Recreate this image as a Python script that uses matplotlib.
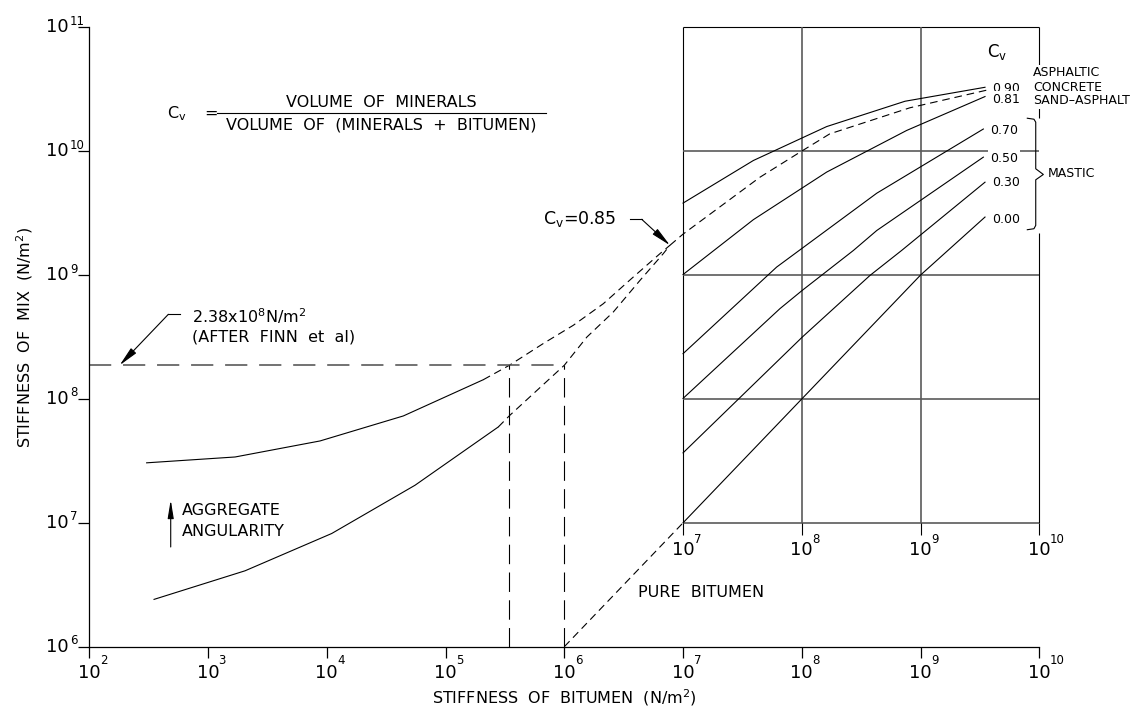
import numpy as np
import matplotlib.pyplot as plt
from matplotlib.ticker import NullLocator

plt.rcParams['font.family'] = ['DejaVu Sans']
plt.rcParams['mathtext.default'] = 'regular'
plt.rcParams['lines.scale_dashes'] = False

# ---- data (N/m^2) ----
# mixes: upper (angular aggregate) and lower curve, solid part
hi_x = [3.04e2, 1.69e3, 8.77e3, 4.41e4, 2.08e5]
hi_y = [3.05e7, 3.40e7, 4.58e7, 7.29e7, 1.43e8]
lo_x = [3.51e2, 2.05e3, 1.10e4, 5.53e4, 2.78e5]
lo_y = [2.41e6, 4.10e6, 8.20e6, 2.01e7, 5.94e7]
# dashed continuations up to the Cv=0.85 point
hi_dash_x = [2.08e5, 3.45e5, 6.65e5, 1.19e6, 2.13e6, 3.81e6, 6.40e6, 7.76e6]
hi_dash_y = [1.43e8, 1.87e8, 2.80e8, 3.93e8, 5.87e8, 9.64e8, 1.49e9, 1.74e9]
lo_dash_x = [2.78e5, 3.49e5, 1.0e6, 1.55e6, 2.59e6, 4.34e6, 6.82e6, 7.76e6]
lo_dash_y = [5.94e7, 7.40e7, 1.87e8, 3.16e8, 5.04e8, 9.06e8, 1.49e9, 1.74e9]
# Cv = 0.85 (dashed)
cv85_x = [7.76e6, 1.0e7, 4.45e7, 9.66e7, 1.72e8, 8.13e8, 3.72e9]
cv85_y = [1.74e9, 2.14e9, 6.17e9, 9.82e9, 1.38e10, 2.24e10, 3.13e10]
# Cv curves inside the box
cv090_x = [1.0e7, 3.91e7, 1.62e8, 7.40e8, 3.49e9]
cv090_y = [3.81e9, 8.41e9, 1.58e10, 2.53e10, 3.28e10]
cv081_x = [1.0e7, 3.91e7, 1.62e8, 7.64e8, 3.49e9]
cv081_y = [1.01e9, 2.80e9, 6.78e9, 1.47e10, 2.76e10]
cv070_x = [1.0e7, 6.14e7, 4.28e8, 3.38e9]
cv070_y = [2.32e8, 1.16e9, 4.58e9, 1.51e10]
cv050_x = [1.0e7, 6.55e7, 1.01e8, 2.72e8, 4.28e8, 3.38e9]
cv050_y = [1.01e8, 5.36e8, 7.53e8, 1.58e9, 2.29e9, 8.95e9]
cv030_x = [1.0e7, 1.01e8, 3.76e8, 6.93e8, 3.49e9]
cv030_y = [3.67e7, 3.16e8, 9.95e8, 1.58e9, 5.62e9]
cv000_x = [1.0e7, 1.0e8, 1.0e9, 3.49e9]
cv000_y = [1.0e7, 1.0e8, 1.0e9, 2.94e9]
cv_labels = ['0.90', '0.81', '0.70', '0.50', '0.30', '0.00']
# pure bitumen (dashed, below the box)
pure_x = [1.0e6, 1.0e7]
pure_y = [1.0e6, 1.0e7]
# Finn et al. limit and the two bitumen stiffnesses it gives
finn_y = 1.87e8
finn_x = [3.45e5, 1.0e6]

x_dec = [2, 3, 4, 5, 6, 7, 8, 9, 10]
y_dec = [6, 7, 8, 9, 10, 11]
box_dec = [7, 8, 9, 10]

PT = 0.72  # pixels -> points at dpi 100
grey = '#5a5a5a'
lw = 0.8
head = '-|>,head_length=1.2,head_width=0.22'

fig = plt.figure(figsize=(11.45, 7.10), dpi=100)
ax = fig.add_axes([89.3 / 1145, 1 - 646.7 / 710, 950 / 1145, 619.4 / 710])
ax.set_xscale('log')
ax.set_yscale('log')
ax.set_xlim(1e2, 1e10)
ax.set_ylim(1e6, 1e11)
for s in ['top', 'right']:
    ax.spines[s].set_visible(False)
for s in ['left', 'bottom']:
    ax.spines[s].set_linewidth(0.9)
ax.set_xticks([10.0 ** k for k in x_dec])
ax.set_yticks([10.0 ** k for k in y_dec])
ax.xaxis.set_minor_locator(NullLocator())
ax.yaxis.set_minor_locator(NullLocator())
ax.tick_params(length=8, width=0.9, direction='out',
               labelbottom=False, labelleft=False)

# tick labels drawn as "10" + exponent, like the drafting
for k in x_dec:
    ax.annotate('10', xy=(10.0 ** k, 0), xycoords=('data', 'axes fraction'),
                xytext=(0, -26 * PT), textcoords='offset points',
                ha='center', va='center', fontsize=13)
    ax.annotate(str(k), xy=(10.0 ** k, 0), xycoords=('data', 'axes fraction'),
                xytext=(10.5 * PT, -14 * PT), textcoords='offset points',
                ha='left', va='center', fontsize=8.5)
for k in y_dec:
    ax.annotate('10', xy=(0, 10.0 ** k), xycoords=('axes fraction', 'data'),
                xytext=(-21 * PT, 0), textcoords='offset points',
                ha='right', va='center', fontsize=13)
    ax.annotate(str(k), xy=(0, 10.0 ** k), xycoords=('axes fraction', 'data'),
                xytext=(-19.5 * PT, 6 * PT), textcoords='offset points',
                ha='left', va='center', fontsize=8.5)

ax.set_xlabel('STIFFNESS  OF  BITUMEN  (N/m$^2$)', fontsize=11.5, labelpad=21)
ax.set_ylabel('STIFFNESS  OF  MIX  (N/m$^2$)', fontsize=11.5, labelpad=31)

# ---- box on the right ----
lo, hi = 1e7, 1e10
top = 1e11
brace_top, brace_bot = 1.85e10, 2.2e9
kw = dict(clip_on=False, solid_capstyle='butt')
ax.plot([lo, lo], [lo, top], color='k', lw=lw, **kw)
ax.plot([lo, hi], [top, top], color='k', lw=lw, **kw)
ax.plot([hi, hi], [lo, brace_bot], color='k', lw=lw, **kw)
ax.plot([hi, hi], [brace_top, top], color='k', lw=lw, **kw)
ax.plot([lo, hi], [lo, lo], color=grey, lw=1.2, **kw)
for k in [8, 9]:
    ax.plot([10.0 ** k] * 2, [lo, top], color=grey, lw=1.2, **kw)
for k in [8, 9, 10]:
    ax.plot([lo, hi], [10.0 ** k] * 2, color=grey, lw=1.2, **kw)
for k in box_dec:
    ax.plot([10.0 ** k] * 2, [10 ** 6.9, lo], color='k', lw=lw, **kw)
    ax.annotate('10', xy=(10.0 ** k, lo), xytext=(0, -27 * PT),
                textcoords='offset points', ha='center', va='center', fontsize=13)
    ax.annotate(str(k), xy=(10.0 ** k, lo), xytext=(10.5 * PT, -17 * PT),
                textcoords='offset points', ha='left', va='center', fontsize=8.5)

# ---- curves ----
ax.plot(hi_x, hi_y, color='k', lw=lw)
ax.plot(lo_x, lo_y, color='k', lw=lw)
ax.plot(hi_dash_x, hi_dash_y, color='k', lw=lw, dashes=(5.5, 3.5))
ax.plot(lo_dash_x, lo_dash_y, color='k', lw=lw, dashes=(5.5, 3.5))
ax.plot(cv85_x, cv85_y, color='k', lw=lw, dashes=(5.5, 3.5))
ax.plot(pure_x, pure_y, color='k', lw=lw, dashes=(5.5, 3.5))

cv_x = [cv090_x, cv081_x, cv070_x, cv050_x, cv030_x, cv000_x]
cv_y = [cv090_y, cv081_y, cv070_y, cv050_y, cv030_y, cv000_y]
lab_dy = [-1, -3, -1, -1, 0, -2]
for xs, ys, lab, dy in zip(cv_x, cv_y, cv_labels, lab_dy):
    ax.plot(xs, ys, color='k', lw=lw)
    ax.annotate(lab, xy=(xs[-1], ys[-1]), xytext=(7 * PT, dy * PT),
                textcoords='offset points', ha='left', va='center', fontsize=9,
                bbox=dict(boxstyle='square,pad=0.15', fc='white', ec='none'))

# Finn et al. limit lines
ax.plot([1e2, finn_x[1]], [finn_y, finn_y], color=grey, lw=1.2, dashes=(16, 8.5))
for xv in finn_x:
    ax.plot([xv, xv], [1e6, finn_y], color='k', lw=lw, dashes=(14, 6))

# ---- annotations ----
ax.text(0.0815, 0.861, 'C$_v$', transform=ax.transAxes, fontsize=11.5,
        ha='left', va='center')
ax.text(0.1215, 0.861, '=', transform=ax.transAxes, fontsize=11.5,
        ha='left', va='center')
ax.plot([0.134, 0.481], [0.861, 0.861], color='k', lw=lw, transform=ax.transAxes)
ax.text(0.3075, 0.866, 'VOLUME  OF  MINERALS', transform=ax.transAxes,
        fontsize=11.5, ha='center', va='bottom')
ax.text(0.3075, 0.855, 'VOLUME  OF  (MINERALS  +  BITUMEN)', transform=ax.transAxes,
        fontsize=11.5, ha='center', va='top')

ax.text(0.1078, 0.533, '2.38x10$^8$N/m$^2$', transform=ax.transAxes,
        fontsize=11.5, ha='left', va='center')
ax.text(0.1078, 0.5005, '(AFTER  FINN  et  al)', transform=ax.transAxes,
        fontsize=11.5, ha='left', va='center')
ax.plot([0.0957, 0.0832], [0.5366, 0.5366], color='k', lw=lw, transform=ax.transAxes)
ax.annotate('', xy=(1.8e2, finn_y), xytext=(0.0832, 0.5366),
            textcoords='axes fraction',
            arrowprops=dict(arrowstyle=head, color='k', lw=lw,
                            shrinkA=0, shrinkB=0))

ax.text(0.478, 0.690, 'C$_v$=0.85', transform=ax.transAxes,
        fontsize=12.5, ha='left', va='center')
ax.plot([0.5692, 0.5815], [0.690, 0.690], color='k', lw=lw, transform=ax.transAxes)
ax.annotate('', xy=(cv85_x[0], cv85_y[0]), xytext=(0.5815, 0.690),
            textcoords='axes fraction',
            arrowprops=dict(arrowstyle=head, color='k', lw=lw,
                            shrinkA=0, shrinkB=0))

ax.annotate('', xy=(0.0857, 0.237), xytext=(0.0857, 0.161),
            xycoords='axes fraction', textcoords='axes fraction',
            arrowprops=dict(arrowstyle='-|>,head_length=1.1,head_width=0.18',
                            color='k', lw=lw, shrinkA=0, shrinkB=0))
ax.text(0.0973, 0.2196, 'AGGREGATE', transform=ax.transAxes,
        fontsize=11.5, ha='left', va='center')
ax.text(0.0973, 0.1857, 'ANGULARITY', transform=ax.transAxes,
        fontsize=11.5, ha='left', va='center')

ax.text(0.5776, 0.0883, 'PURE  BITUMEN', transform=ax.transAxes,
        fontsize=11.5, ha='left', va='center')

ax.text(0.9446, 0.960, 'C$_v$', transform=ax.transAxes,
        fontsize=12, ha='left', va='center')
for txt, fy in zip(['ASPHALTIC', 'CONCRETE', 'SAND\u2013ASPHALT'],
                   [0.9263, 0.9030, 0.8811]):
    ax.text(0.9934, fy, txt, transform=ax.transAxes, fontsize=9,
            ha='left', va='center', clip_on=False,
            bbox=dict(boxstyle='square,pad=0.15', fc='white', ec='none'))

# curly brace for MASTIC
b_lx = np.array([9.899, 9.955, 9.970, 9.970, 10.034, 9.970, 9.970, 9.955, 9.899])
b_ly = np.array([10.266, 10.258, 10.234, 9.858, 9.812, 9.769, 9.401, 9.374, 9.366])
ax.plot(10 ** b_lx, 10 ** b_ly, color='k', lw=lw, clip_on=False)
ax.text(1.0092, 0.7632, 'MASTIC', transform=ax.transAxes, fontsize=9,
        ha='left', va='center')

fig.savefig('out.png', dpi=100)
